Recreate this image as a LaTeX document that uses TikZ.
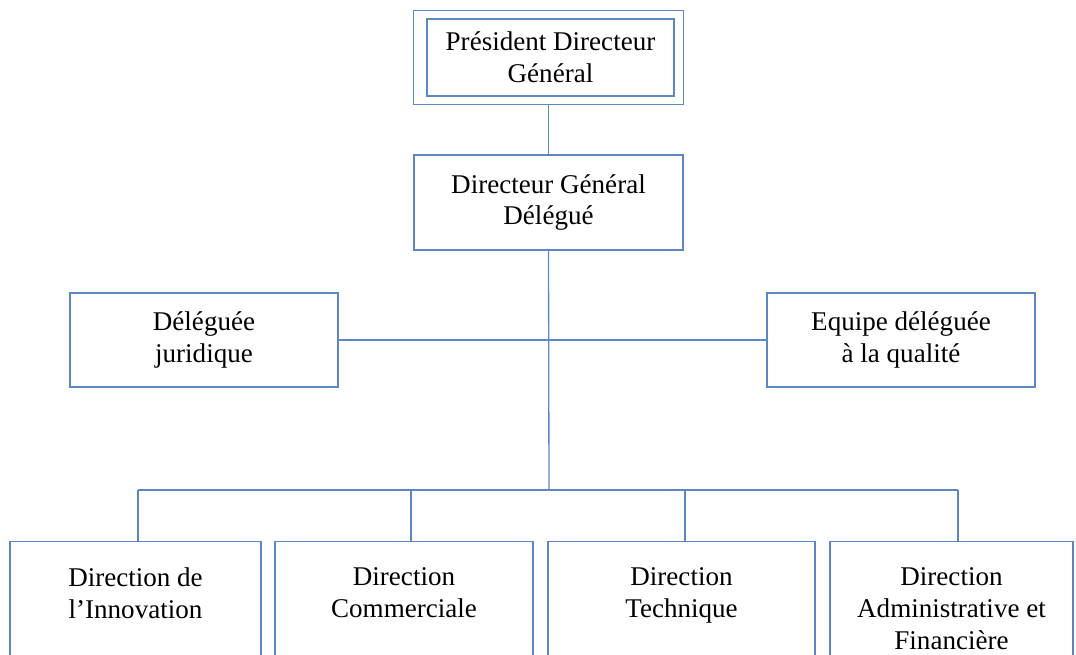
\documentclass[tikz,border=0pt]{standalone}
\usepackage{fontspec}
\setmainfont{Liberation Serif}
\definecolor{boxblue}{HTML}{5B87C5}

\begin{document}
\begin{tikzpicture}[x=0.02cm,y=-0.02cm,line width=0.75pt,
	every node/.style={font=\fontsize{15.4}{18.1}\selectfont,align=center},
	box/.style={draw=boxblue,inner sep=0pt},
	lowbox/.style={draw=boxblue,anchor=north,inner xsep=0pt,inner ysep=15pt,text depth=3cm}]
	\useasboundingbox (0,0) rectangle (1076,654);
	\clip (0,0) rectangle (1076,654);
	\node[box,minimum width=4.94cm,minimum height=1.54cm] (pdg) at (550.5,57.5) {Président Directeur\\Général};
	\draw[boxblue] ([shift={(-13,-8)}]pdg.north west) rectangle ([shift={(9,8)}]pdg.south east);
	\node[box,minimum width=5.38cm,minimum height=1.9cm] (dgd) at (548.5,202.5) {Directeur Général\\Délégué};
	\node[box,minimum width=5.36cm,minimum height=1.88cm] (jur) at (204,340) {Déléguée\\juridique};
	\node[box,minimum width=5.36cm,minimum height=1.88cm] (qual) at (901,340) {Equipe déléguée\\à la qualité};
	\node[lowbox,minimum width=5.02cm] (innov) at (135.5,541) {Direction de\\l’Innovation};
	\node[lowbox,minimum width=5.16cm] (comm) at (404,541) {Direction\\Commerciale};
	\node[lowbox,minimum width=5.34cm] (tech) at (681.5,541) {Direction\\Technique};
	\node[lowbox,minimum width=4.86cm] (daf) at (951.5,541) {Direction\\Administrative et\\Financière};
	\coordinate (bus) at (549,490);
	\coordinate (b1) at (138,490);
	\coordinate (b2) at (411,490);
	\coordinate (b3) at (685,490);
	\coordinate (b4) at (958,490);
	\draw[boxblue] (pdg.south -| dgd.north) ++(0,8) -- (dgd.north);
	\draw[boxblue] (dgd.south) -- (bus);
	\draw[boxblue] (jur.east) -- (qual.west);
	\draw[boxblue] (b1) -- (b4);
	\draw[boxblue] (b1) -- (b1 |- innov.north);
	\draw[boxblue] (b2) -- (b2 |- comm.north);
	\draw[boxblue] (b3) -- (b3 |- tech.north);
	\draw[boxblue] (b4) -- (b4 |- daf.north);
\end{tikzpicture}
\end{document}
